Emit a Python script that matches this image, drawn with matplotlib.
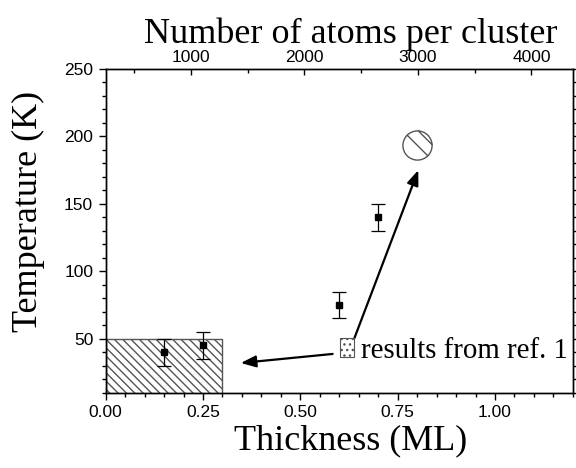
import matplotlib
matplotlib.use('Agg')
import matplotlib.pyplot as plt
from matplotlib.ticker import MultipleLocator
from matplotlib.path import Path
from matplotlib.patches import Patch
import numpy as np

# measured points: thickness (ML), temperature (K), error (K)
thick = [0.15, 0.25, 0.60, 0.70]
temp = [40, 45, 75, 140]
temp_err = [10, 10, 10, 10]

# point taken from ref. 1 (hatched circle)
ref_pt_thick = [0.80]
ref_pt_temp = [194]

# region taken from ref. 1 (hatched box)
ref_box_thick = [0.0, 0.3]
ref_box_temp = 50

# arrows: (tail, head) in data coords
arrow1 = ((0.583, 38.7), (0.347, 32.0))
arrow2 = ((0.639, 50.5), (0.803, 175.0))

# top axis range (atoms per cluster) matching the thickness range
atoms_lim = (250, 4365)

serif = ['Liberation Serif', 'DejaVu Serif']
sans = ['Liberation Sans', 'DejaVu Sans']

fig = plt.figure(figsize=(5.76, 4.68), dpi=100)
ax = fig.add_axes([0.1835, 0.161, 0.811, 0.6916])

ax.fill_between(ref_box_thick, 0, ref_box_temp, facecolor='white',
                edgecolor='#555555', hatch='\\\\\\\\', lw=1.0, zorder=1)

ax.errorbar(thick, temp, yerr=temp_err, fmt='s', color='black', ms=4.5,
            capsize=4.8, elinewidth=0.9, capthick=0.9, zorder=3)

# circle with diagonal hatch lines
circ = Path.make_compound_path(
    Path.unit_circle(),
    Path([(-0.707, 0.707), (0.707, -0.707)]),
    Path([(0.06, 0.998), (0.998, 0.06)]))
ax.plot(ref_pt_thick, ref_pt_temp, linestyle='none', marker=circ, ms=21,
        mfc='none', mec='#555555', mew=1.0, zorder=3)

for tail, head in [arrow1, arrow2]:
    ax.annotate('', xy=head, xytext=tail,
                arrowprops=dict(arrowstyle='-|>,head_length=0.9,head_width=0.35',
                                color='black', lw=1.6, shrinkA=0, shrinkB=0))

h = Patch(facecolor='white', edgecolor='#555555', hatch='...', lw=0.8)
ax.legend([h], ['results from ref. 1'], loc='center left',
          bbox_to_anchor=(0.501, 0.129), frameon=False, borderpad=0,
          borderaxespad=0, handlelength=0.5, handleheight=0.65,
          handletextpad=0.25, prop={'family': serif, 'size': 20.8})

ax.set_xlim(0, 1.2)
ax.set_ylim(10, 250)
ax.xaxis.set_major_locator(MultipleLocator(0.25))
ax.xaxis.set_minor_locator(MultipleLocator(0.05))
ax.yaxis.set_major_locator(MultipleLocator(50))
ax.yaxis.set_minor_locator(MultipleLocator(10))
ax.xaxis.set_major_formatter(lambda v, p: '%.2f' % v)
ax.tick_params(which='both', direction='out', right=True, width=1.0)
ax.tick_params(which='major', length=5, labelsize=12.5, pad=4)
ax.tick_params(which='minor', length=2.7)
for lab in ax.get_xticklabels() + ax.get_yticklabels():
    lab.set_family(sans)

ax.set_xlabel('Thickness (ML)', family=serif, fontsize=26, x=0.525, labelpad=3)
ax.set_ylabel('Temperature (K)', family=serif, fontsize=26, y=0.56, labelpad=14)

ax2 = ax.twiny()
ax2.set_xlim(*atoms_lim)
ax2.xaxis.set_major_locator(MultipleLocator(1000))
ax2.xaxis.set_minor_locator(MultipleLocator(500))
ax2.tick_params(which='both', direction='in', width=1.0)
ax2.tick_params(which='major', length=4.5, labelsize=12.5, pad=3)
ax2.tick_params(which='minor', length=2.7)
for lab in ax2.get_xticklabels():
    lab.set_family(sans)
ax2.set_xlabel('Number of atoms per cluster', family=serif, fontsize=26,
               x=0.525, labelpad=5)

for a in (ax, ax2):
    for s in a.spines.values():
        s.set_linewidth(1.0)

fig.savefig('out.png', dpi=100)
